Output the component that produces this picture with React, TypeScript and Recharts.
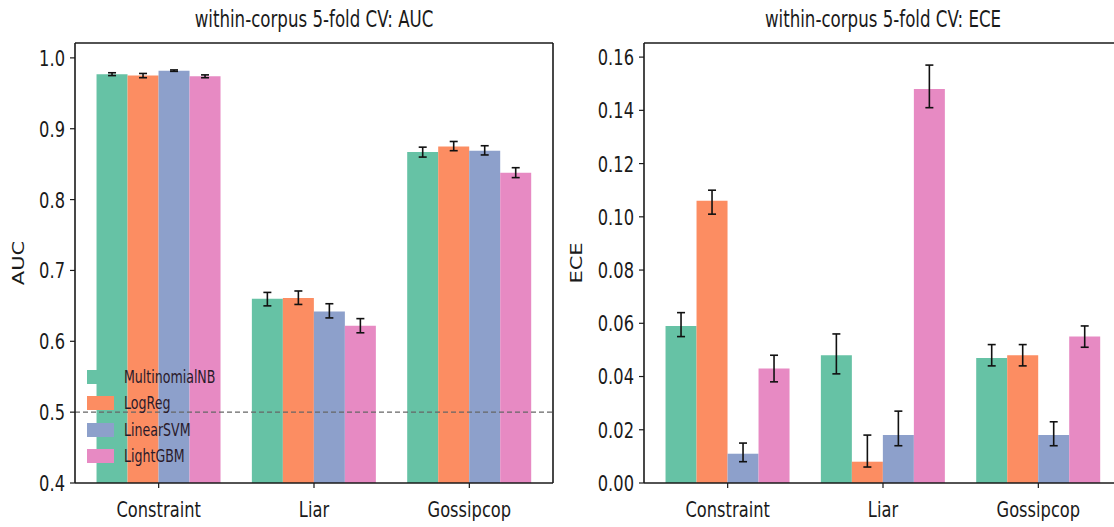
import React from "react";
import { BarChart, Bar, XAxis, YAxis, ErrorBar, ReferenceLine } from "recharts";

// categories on the x axis, one bar per model in each group
const categories = ["Constraint", "Liar", "Gossipcop"];
const models = ["MultinomialNB", "LogReg", "LinearSVM", "LightGBM"];
const colors = ["#66c2a5", "#fc8d62", "#8da0cb", "#e78ac3"];

// AUC: mean, and lower / upper end of the error bar (Constraint, Liar, Gossipcop)
const aucNB = [0.977, 0.66, 0.867];
const aucLR = [0.975, 0.661, 0.875];
const aucSVM = [0.982, 0.642, 0.869];
const aucGBM = [0.974, 0.622, 0.838];
const aucLowNB = [0.975, 0.65, 0.86];
const aucLowLR = [0.972, 0.652, 0.869];
const aucLowSVM = [0.981, 0.633, 0.863];
const aucLowGBM = [0.972, 0.612, 0.831];
const aucHighNB = [0.979, 0.669, 0.874];
const aucHighLR = [0.978, 0.671, 0.882];
const aucHighSVM = [0.983, 0.653, 0.876];
const aucHighGBM = [0.976, 0.632, 0.845];

// ECE: mean, and lower / upper end of the error bar
const eceNB = [0.059, 0.048, 0.047];
const eceLR = [0.106, 0.008, 0.048];
const eceSVM = [0.011, 0.018, 0.018];
const eceGBM = [0.043, 0.148, 0.055];
const eceLowNB = [0.055, 0.041, 0.044];
const eceLowLR = [0.101, 0.006, 0.044];
const eceLowSVM = [0.008, 0.014, 0.014];
const eceLowGBM = [0.038, 0.141, 0.051];
const eceHighNB = [0.064, 0.056, 0.052];
const eceHighLR = [0.11, 0.018, 0.052];
const eceHighSVM = [0.015, 0.027, 0.023];
const eceHighGBM = [0.048, 0.157, 0.059];

const aucTicks = [0.4, 0.5, 0.6, 0.7, 0.8, 0.9, 1.0];
const eceTicks = [0, 0.02, 0.04, 0.06, 0.08, 0.1, 0.12, 0.14, 0.16];

const FONT = "'DejaVu Sans', sans-serif";
const SX = 0.74; // the source image is squeezed horizontally
const INK = "#1a1a1a";

function buildRows(means: number[][], lows: number[][], highs: number[][]) {
  return categories.map((name, c) => {
    const row: Record<string, any> = { name };
    models.forEach((m, i) => {
      row[m] = means[i][c];
      row[m + "Err"] = [means[i][c] - lows[i][c], highs[i][c] - means[i][c]];
    });
    return row;
  });
}

const aucRows = buildRows(
  [aucNB, aucLR, aucSVM, aucGBM],
  [aucLowNB, aucLowLR, aucLowSVM, aucLowGBM],
  [aucHighNB, aucHighLR, aucHighSVM, aucHighGBM],
);
const eceRows = buildRows(
  [eceNB, eceLR, eceSVM, eceGBM],
  [eceLowNB, eceLowLR, eceLowSVM, eceLowGBM],
  [eceHighNB, eceHighLR, eceHighSVM, eceHighGBM],
);

function XTick({ x, y, payload }: any) {
  return (
    <text
      transform={`translate(${x},${y}) scale(${SX},1)`}
      textAnchor="middle"
      dy="0.71em"
      fontSize={22}
      fontFamily={FONT}
      fill={INK}
    >
      {payload.value}
    </text>
  );
}

function makeYTick(digits: number) {
  return function YTick({ x, y, payload }: any) {
    return (
      <text
        transform={`translate(${x},${y}) scale(${SX},1)`}
        textAnchor="end"
        dy="0.36em"
        fontSize={22}
        fontFamily={FONT}
        fill={INK}
      >
        {Number(payload.value).toFixed(digits)}
      </text>
    );
  };
}

const AucTick = makeYTick(1);
const EceTick = makeYTick(2);

const frame = { stroke: INK, strokeWidth: 1.6 };

function Panel({
  rows,
  width,
  yWidth,
  marginRight,
  domain,
  ticks,
  tick,
  chance,
}: {
  rows: any[];
  width: number;
  yWidth: number;
  marginRight: number;
  domain: [number, number];
  ticks: number[];
  tick: any;
  chance?: number;
}) {
  return (
    <BarChart
      width={width}
      height={527}
      data={rows}
      margin={{ top: 42, right: marginRight, bottom: 0, left: 0 }}
      barCategoryGap="10%"
      barGap={0}
    >
      <XAxis
        dataKey="name"
        height={44}
        interval={0}
        padding={{ left: 6, right: 6 }}
        tick={<XTick />}
        tickSize={5}
        tickMargin={13}
        axisLine={frame}
        tickLine={{ stroke: INK, strokeWidth: 1.2 }}
      />
      {/* top spine */}
      <XAxis
        xAxisId="top"
        dataKey="name"
        orientation="top"
        height={1}
        tick={false}
        tickLine={false}
        axisLine={frame}
      />
      <YAxis
        type="number"
        width={yWidth}
        domain={domain}
        ticks={ticks}
        allowDataOverflow
        tick={tick}
        tickSize={5}
        tickMargin={5}
        axisLine={frame}
        tickLine={{ stroke: INK, strokeWidth: 1.2 }}
      />
      {/* right spine */}
      <YAxis
        yAxisId="right"
        orientation="right"
        type="number"
        domain={[0, 1]}
        width={1}
        tick={false}
        tickLine={false}
        axisLine={frame}
      />
      {chance !== undefined && (
        <ReferenceLine y={chance} stroke="#666" strokeWidth={1.3} strokeDasharray="5 3" />
      )}
      {models.map((m, i) => (
        <Bar key={m} dataKey={m} fill={colors[i]} isAnimationActive={false}>
          <ErrorBar dataKey={m + "Err"} width={4} strokeWidth={1.6} stroke="#111" direction="y" />
        </Bar>
      ))}
    </BarChart>
  );
}

function Title({ text, cx }: { text: string; cx: number }) {
  return (
    <div
      style={{
        position: "absolute",
        left: cx,
        top: 6,
        transform: `translateX(-50%) scaleX(${SX})`,
        whiteSpace: "nowrap",
        fontFamily: FONT,
        fontSize: 22.5,
        color: INK,
      }}
    >
      {text}
    </div>
  );
}

function AxisLabel({ text, cx }: { text: string; cx: number }) {
  return (
    <div
      style={{
        position: "absolute",
        left: cx,
        top: 263,
        transform: `translate(-50%, -50%) scaleX(${SX}) rotate(-90deg)`,
        whiteSpace: "nowrap",
        fontFamily: FONT,
        fontSize: 21,
        color: INK,
        lineHeight: 1,
      }}
    >
      {text}
    </div>
  );
}

function Legend() {
  return (
    <div style={{ position: "absolute", left: 87, top: 364 }}>
      {models.map((m, i) => (
        <div key={m} style={{ display: "flex", alignItems: "center", height: 26.3 }}>
          <span
            style={{ display: "inline-block", width: 27, height: 14, background: colors[i] }}
          />
          <span
            style={{
              marginLeft: 10,
              fontFamily: FONT,
              fontSize: 17,
              color: "#2a1a2a",
              transform: `scaleX(${SX})`,
              transformOrigin: "left center",
              whiteSpace: "nowrap",
            }}
          >
            {m}
          </span>
        </div>
      ))}
    </div>
  );
}

export default function App() {
  return (
    <div
      style={{
        position: "fixed",
        left: 0,
        top: 0,
        width: 1114,
        height: 527,
        overflow: "hidden",
        background: "#fff",
      }}
    >
      <div style={{ position: "absolute", left: 0, top: 0 }}>
        <Panel
          rows={aucRows}
          width={560}
          yWidth={75}
          marginRight={6}
          domain={[0.4, 1.021]}
          ticks={aucTicks}
          tick={<AucTick />}
          chance={0.5}
        />
      </div>
      <div style={{ position: "absolute", left: 560, top: 0 }}>
        <Panel
          rows={eceRows}
          width={580}
          yWidth={84}
          marginRight={17}
          domain={[0, 0.1653]}
          ticks={eceTicks}
          tick={<EceTick />}
        />
      </div>
      <Title text="within-corpus 5-fold CV: AUC" cx={314} />
      <Title text="within-corpus 5-fold CV: ECE" cx={883} />
      <AxisLabel text="AUC" cx={19} />
      <AxisLabel text="ECE" cx={577} />
      <Legend />
    </div>
  );
}
